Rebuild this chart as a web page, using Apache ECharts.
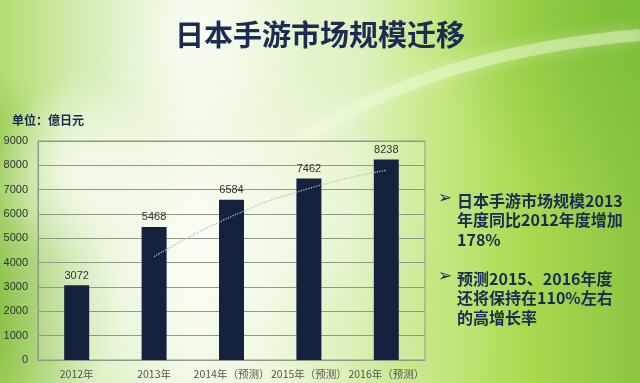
<!DOCTYPE html>
<html>
<head>
<meta charset="utf-8">
<script src="https://cdn.jsdelivr.net/npm/echarts@6/dist/echarts.min.js"></script>
<style>
html,body{margin:0;padding:0;}
#c{width:640px;height:383px;}
</style>
</head>
<body>
<div id="c"></div>
<script>
const categories = ['2012年', '2013年', '2014年（预测）', '2015年（预测）', '2016年（预测）'];
const marketValues = [3072, 5468, 6584, 7462, 8238];
const trendValues = [null, 4250, 5900, 7050, 7800];
const yMin = 0, yMax = 9000, yInterval = 1000;
const titleText = '日本手游市场规模迁移';
const unitText = '单位：億日元';
const note1 = ['日本手游市场规模2013', '年度同比2012年度增加', '178%'];
const note2 = ['预测2015、2016年度', '还将保持在110%左右', '的高增长率'];

const CJK = '"Noto Sans CJK SC", "Noto Sans", sans-serif';
const navy = '#1b2b52';

function glow(cx, cy, r, rgb, a) {
  return {type: 'circle', z: -100, silent: true, shape: {cx: cx, cy: cy, r: r},
    style: {fill: new echarts.graphic.RadialGradient(0.5, 0.5, 0.5, [
      {offset: 0, color: 'rgba(' + rgb + ',' + a + ')'},
      {offset: 1, color: 'rgba(' + rgb + ',0)'}])}};
}

const chart = echarts.init(document.getElementById('c'), null, {renderer: 'canvas'});
chart.setOption({
  animation: false,
  backgroundColor: new echarts.graphic.LinearGradient(0, 0, 1, 0, [
    {offset: 0, color: '#b3db72'},
    {offset: 0.12, color: '#d3ebaf'},
    {offset: 0.3, color: '#ecf7dc'},
    {offset: 0.55, color: '#e2f2c4'},
    {offset: 0.68, color: '#c6e885'},
    {offset: 0.82, color: '#abda50'},
    {offset: 1, color: '#8cc541'}
  ]),
  title: {
    text: titleText,
    left: 'center',
    top: 15,
    textStyle: {fontSize: 29, fontWeight: 'bold', color: navy, fontFamily: CJK}
  },
  graphic: [
    glow(-30, 300, 150, '115,180,45', 0.95),
    glow(-20, 150, 80, '130,190,60', 0.6),
    glow(640, 10, 210, '118,188,52', 0.8),
    glow(380, 330, 120, '190,225,120', 0.5),
    glow(190, 250, 220, '255,255,255', 0.7),
    glow(80, 170, 90, '255,255,255', 0.6),
    glow(200, 30, 110, '255,255,255', 0.65),
    {type: 'bezierCurve', z: -99, silent: true,
      shape: {x1: 300, y1: 140, x2: 640, y2: 35, cpx1: 400, cpy1: 75, cpx2: 520, cpy2: 45},
      style: {stroke: 'rgba(240,252,215,0.45)', lineWidth: 12, fill: null, shadowBlur: 16, shadowColor: 'rgba(255,255,255,0.7)'}},
    {type: 'text', left: 12, top: 114,
      style: {text: unitText, font: 'bold 12px ' + CJK, fill: navy}},
    {type: 'text', left: 438, top: 190,
      style: {text: '➢', font: 'bold 17px "DejaVu Sans"', fill: navy}},
    {type: 'text', left: 457, top: 191,
      style: {text: note1.join('\n'), font: 'bold 16px ' + CJK, fill: navy, lineHeight: 19.5}},
    {type: 'text', left: 438, top: 268,
      style: {text: '➢', font: 'bold 17px "DejaVu Sans"', fill: navy}},
    {type: 'text', left: 457, top: 269,
      style: {text: note2.join('\n'), font: 'bold 16px ' + CJK, fill: navy, lineHeight: 19.5}}
  ],
  grid: {left: 38, right: 215, top: 141, bottom: 23, show: true,
    borderColor: '#8f9a86', borderWidth: 1, backgroundColor: 'rgba(255,255,255,0.12)'},
  xAxis: {
    type: 'category',
    data: categories,
    axisLine: {show: true, lineStyle: {color: '#8f9a86'}},
    axisTick: {show: false},
    axisLabel: {interval: 0, color: '#555', fontSize: 10.5, fontFamily: CJK, margin: 9}
  },
  yAxis: {
    type: 'value',
    min: yMin, max: yMax, interval: yInterval,
    axisLine: {show: true, lineStyle: {color: '#8f9a86'}},
    axisTick: {show: false},
    axisLabel: {color: '#333', fontSize: 11, fontFamily: '"Liberation Sans", sans-serif', margin: 10,
      formatter: function (v) { return String(v); }},
    splitLine: {show: true, lineStyle: {color: '#8f9a86', width: 1}}
  },
  series: [
    {
      type: 'bar',
      data: marketValues,
      barWidth: 25,
      itemStyle: {color: '#15223e'},
      label: {show: true, position: 'top', distance: 4, color: '#333', fontSize: 11,
        fontFamily: '"Liberation Sans", sans-serif'}
    },
    {
      type: 'line',
      data: trendValues,
      smooth: true,
      symbol: 'none',
      z: 5,
      lineStyle: {color: '#b6c0c4', width: 1.3, type: 'dotted'}
    }
  ]
});
</script>
</body>
</html>
